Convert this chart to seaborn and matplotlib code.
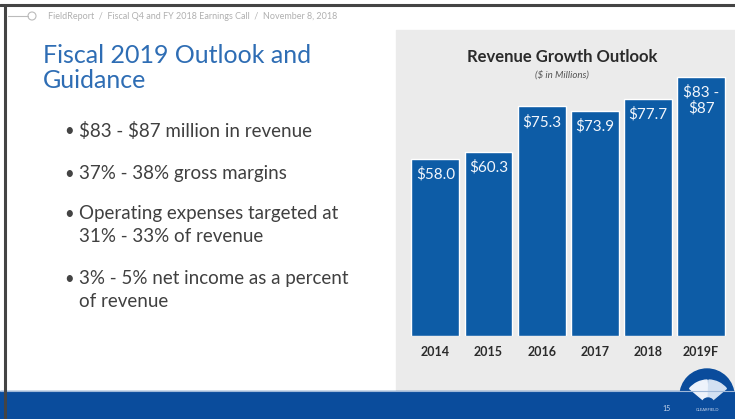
import matplotlib
matplotlib.use("Agg")
import matplotlib.pyplot as plt
import matplotlib.patches as mpatches
import seaborn as sns
import pandas as pd

years = ["2014", "2015", "2016", "2017", "2018", "2019F"]
revenue = [58.0, 60.3, 75.3, 73.9, 77.7, 85.0]
bar_labels = ["$58.0", "$60.3", "$75.3", "$73.9", "$77.7", "$83 -\n$87"]

slide_title = "Fiscal 2019 Outlook and\nGuidance"
bullets = [
    "$83 - $87 million in revenue",
    "37% - 38% gross margins",
    "Operating expenses targeted at\n31% - 33% of revenue",
    "3% - 5% net income as a percent\nof revenue",
]
header = "FieldReport  /  Fiscal Q4 and FY 2018 Earnings Call  /  November 8, 2018"

sns.set_style("white")
plt.rcParams["font.family"] = ["Lato", "DejaVu Sans"]
plt.rcParams["text.parse_math"] = False

bar_blue = "#0d5ca6"
band_blue = "#0a4c9c"
title_blue = "#2e6db4"

fig = plt.figure(figsize=(7.35, 4.19), dpi=100)

# slide background, drawn in pixel coordinates
bg = fig.add_axes([0, 0, 1, 1])
bg.set_xlim(0, 735)
bg.set_ylim(419, 0)
bg.axis("off")
bg.add_patch(mpatches.Rectangle((0, 0), 735, 419, color="white"))
bg.add_patch(mpatches.Rectangle((396, 30), 339, 361, color="#ebebeb"))
bg.add_patch(mpatches.Rectangle((0, 391), 735, 28, color=band_blue))
bg.plot([0, 735], [391, 391], color="#9fb8d8", lw=0.8)
bg.plot([0, 735], [5.5, 5.5], color="#444444", lw=2.2)
bg.plot([5.5, 5.5], [5, 419], color="#444444", lw=2.2)

# header breadcrumb
bg.plot([8, 28], [16, 16], color="#bbbbbb", lw=0.8)
bg.add_patch(mpatches.Circle((32, 16), 4, fill=False, ec="#bbbbbb", lw=0.8))
bg.text(48, 16.5, header, fontsize=6.5, color="#b0b0b0", va="center")

# left text block
bg.text(43, 68, slide_title, fontsize=18, color=title_blue, va="center",
        linespacing=1.15)
bullet_y = [132, 175, 215, 280]
for y, b in zip(bullet_y, bullets):
    bg.text(64, y - 9, "\u2022", fontsize=12, color="#444444", va="top")
    bg.text(79, y - 10, b, fontsize=13.5, color="#404040", va="top",
            linespacing=1.45)

# chart titles
bg.text(562, 57, "Revenue Growth Outlook", fontsize=12, fontweight="bold",
        color="#2b2b2b", ha="center", va="center")
bg.text(562, 75, "($ in Millions)", fontsize=7, style="italic",
        color="#555555", ha="center", va="center")

# logo
bg.add_patch(mpatches.Circle((707, 396), 27, color=band_blue))
bg.add_patch(mpatches.Wedge((708, 404), 24, -140, -92, color="#eef3fb"))
bg.add_patch(mpatches.Wedge((708, 404), 24, -88, -40, color="#d3e1f2"))
bg.add_patch(mpatches.Circle((708, 404), 6, color=band_blue))
bg.text(667, 408, "15", fontsize=5, color="#c8d6ec", ha="center", va="center")
bg.text(708, 410, "CLEARFIELD", fontsize=3, color="#c8d6ec", ha="center",
        va="center")

# bar chart
df = pd.DataFrame({"year": years, "revenue": revenue})
ax = fig.add_axes([408.7 / 735, 83 / 419, 319 / 735, 274.5 / 419])
sns.barplot(data=df, x="year", y="revenue", color=bar_blue, saturation=1,
            width=0.9, ax=ax)
ax.set_facecolor("none")
ax.set_ylim(0, 90)
ax.set_xlim(-0.5, 5.5)
ax.set_yticks([])
ax.set_xlabel("")
ax.set_ylabel("")
sns.despine(ax=ax, left=True, bottom=True)
ax.tick_params(axis="x", length=0, pad=7)
for lbl in ax.get_xticklabels():
    lbl.set_fontweight("bold")
    lbl.set_fontsize(9)
    lbl.set_color("#2b2b2b")

for i, (v, s) in enumerate(zip(revenue, bar_labels)):
    ax.annotate(s, (i, v), xytext=(0, -6), textcoords="offset points",
                ha="center", va="top", color="#f2f6fc", fontsize=11,
                linespacing=1.15)

fig.savefig("out.png", dpi=100)
